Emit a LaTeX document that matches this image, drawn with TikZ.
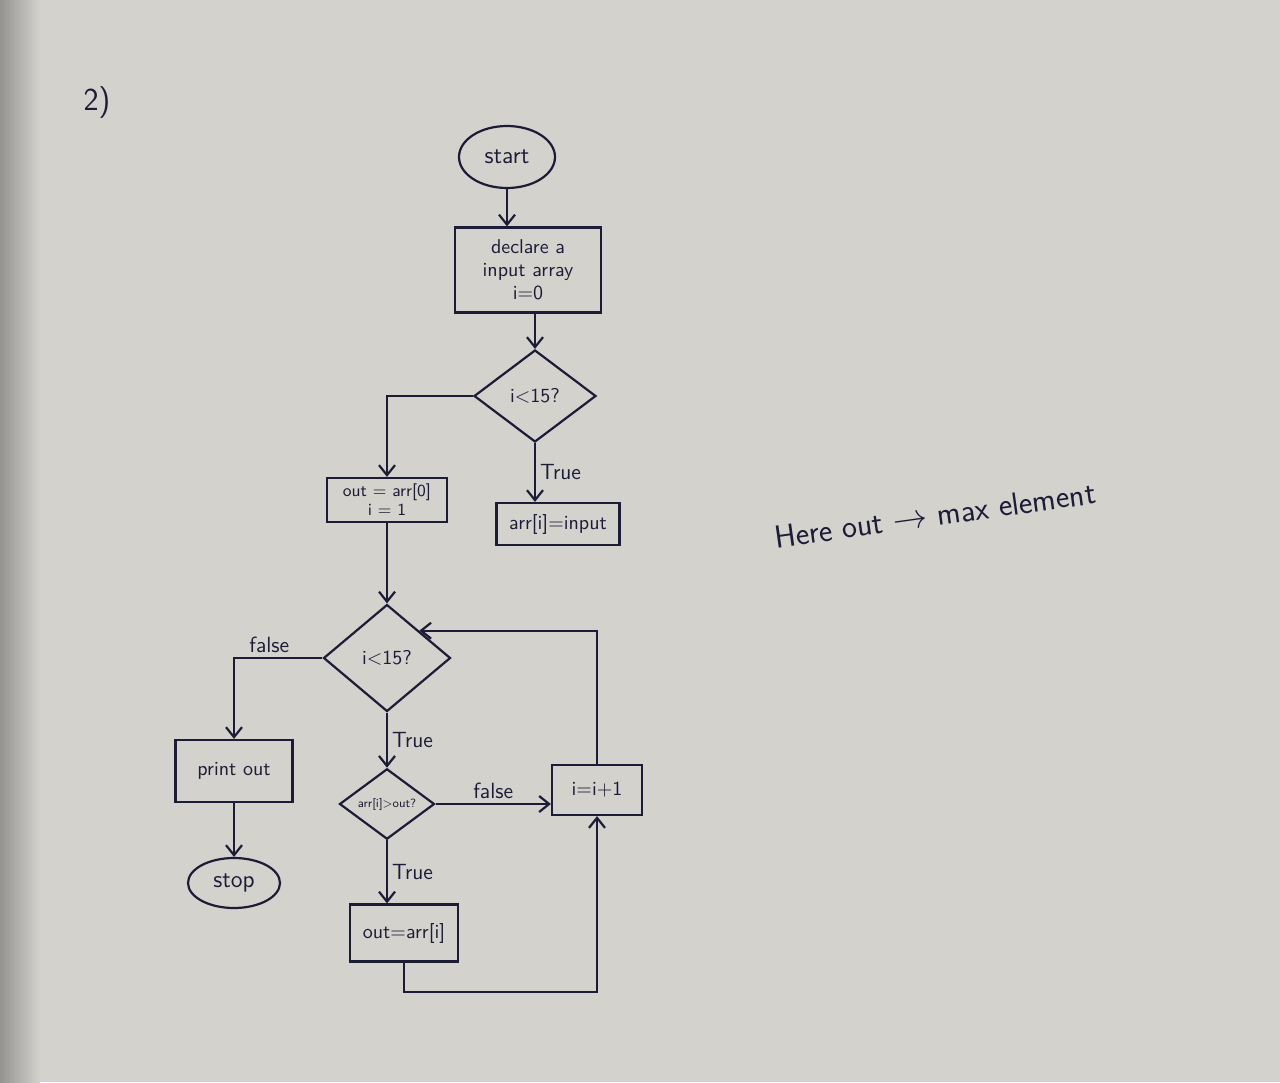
\documentclass[tikz,border=0pt]{standalone}
\usetikzlibrary{shapes.geometric,arrows.meta}
\definecolor{ink}{RGB}{28,28,55}
\definecolor{paper}{RGB}{212,210,205}
\definecolor{edge}{RGB}{150,148,145}
\begin{document}
\begin{tikzpicture}[x=0.5pt,y=-0.5pt,color=ink,
  box/.style={draw, rectangle, line width=1.1pt, align=center, inner sep=1.5pt,
    font=\sffamily\fontsize{10}{11.5}\selectfont},
  term/.style={draw, ellipse, line width=1.1pt, inner sep=1pt,
    font=\sffamily\fontsize{12}{13}\selectfont},
  dec/.style={draw, diamond, line width=1.1pt, inner sep=0pt, align=center,
    font=\sffamily\fontsize{10}{11}\selectfont},
  conn/.style={-{Straight Barb[length=5pt,width=8pt]}, line width=1.1pt},
  lab/.style={font=\sffamily\fontsize{11}{12}\selectfont, inner sep=2pt}]
\useasboundingbox (0,0) rectangle (1280,1082);
\fill[paper] (0,0) rectangle (1280,1082);
\shade[left color=edge, right color=paper] (0,0) rectangle (40,1082);

\node[font=\sffamily\fontsize{16}{18}\selectfont] (num) at (97,103) {2)};

\node[term, minimum width=48pt, minimum height=31pt] (start) at (507,157) {start};
\node[box, minimum width=73pt, minimum height=42.5pt] (decl) at (528,270) {declare a\\input array\\i=0};
\node[dec, minimum width=61pt, minimum height=46pt] (d1) at (535,396) {i<15?};
\node[box, minimum width=60pt, minimum height=22pt, inner sep=1pt,
  font=\sffamily\fontsize{8.5}{9.5}\selectfont] (out0) at (387,500) {out = arr[0]\\i = 1};
\node[box, minimum width=61.5pt, minimum height=21pt] (arr) at (558,524) {arr[i]=input};
\node[dec, minimum width=63.5pt, minimum height=53.5pt] (d2) at (387,658) {i<15?};
\node[box, minimum width=58.5pt, minimum height=31pt] (print) at (234,771) {print out};
\node[term, minimum width=46pt, minimum height=25pt] (stop) at (234,883) {stop};
\node[dec, minimum width=47.5pt, minimum height=32pt,
  font=\sffamily\fontsize{6}{7}\selectfont] (d3) at (387,804) {arr[i]>out?};
\node[box, minimum width=45pt, minimum height=25pt] (inc) at (597,790) {i=i+1};
\node[box, minimum width=54pt, minimum height=28.5pt] (outi) at (404,933) {out=arr[i]};

\node[rotate=8, font=\sffamily\fontsize{16}{18}\selectfont] (note) at (935,515) {Here out $\rightarrow$ max element};

\coordinate (lowpt) at (0,992);

\draw[conn] (start.south) -- (start.south |- decl.north);
\draw[conn] (decl.south -| d1.north) -- (d1.north);
\draw[conn] (d1.west) -| (out0.north);
\draw[conn] (d1.south) -- (d1.south |- arr.north) node[lab, midway, right] {True};
\draw[conn] (out0.south -| d2.north) -- (d2.north);
\draw[conn] (d2.west) -| (print.north) node[lab, pos=0.3, above] {false};
\draw[conn] (print.south) -- (print.south |- stop.north);
\draw[conn] (d2.south) -- (d3.north) node[lab, midway, right] {True};
\draw[conn] (d3.east) -- (d3.east -| inc.west) node[lab, midway, above] {false};
\draw[conn] (d3.south) -- (d3.south |- outi.north) node[lab, midway, right] {True};
\draw[conn] (outi.south) -- (outi.south |- lowpt) -| (inc.south);
\draw[conn] (inc.north) |- (d2.north east);
\end{tikzpicture}
\end{document}
